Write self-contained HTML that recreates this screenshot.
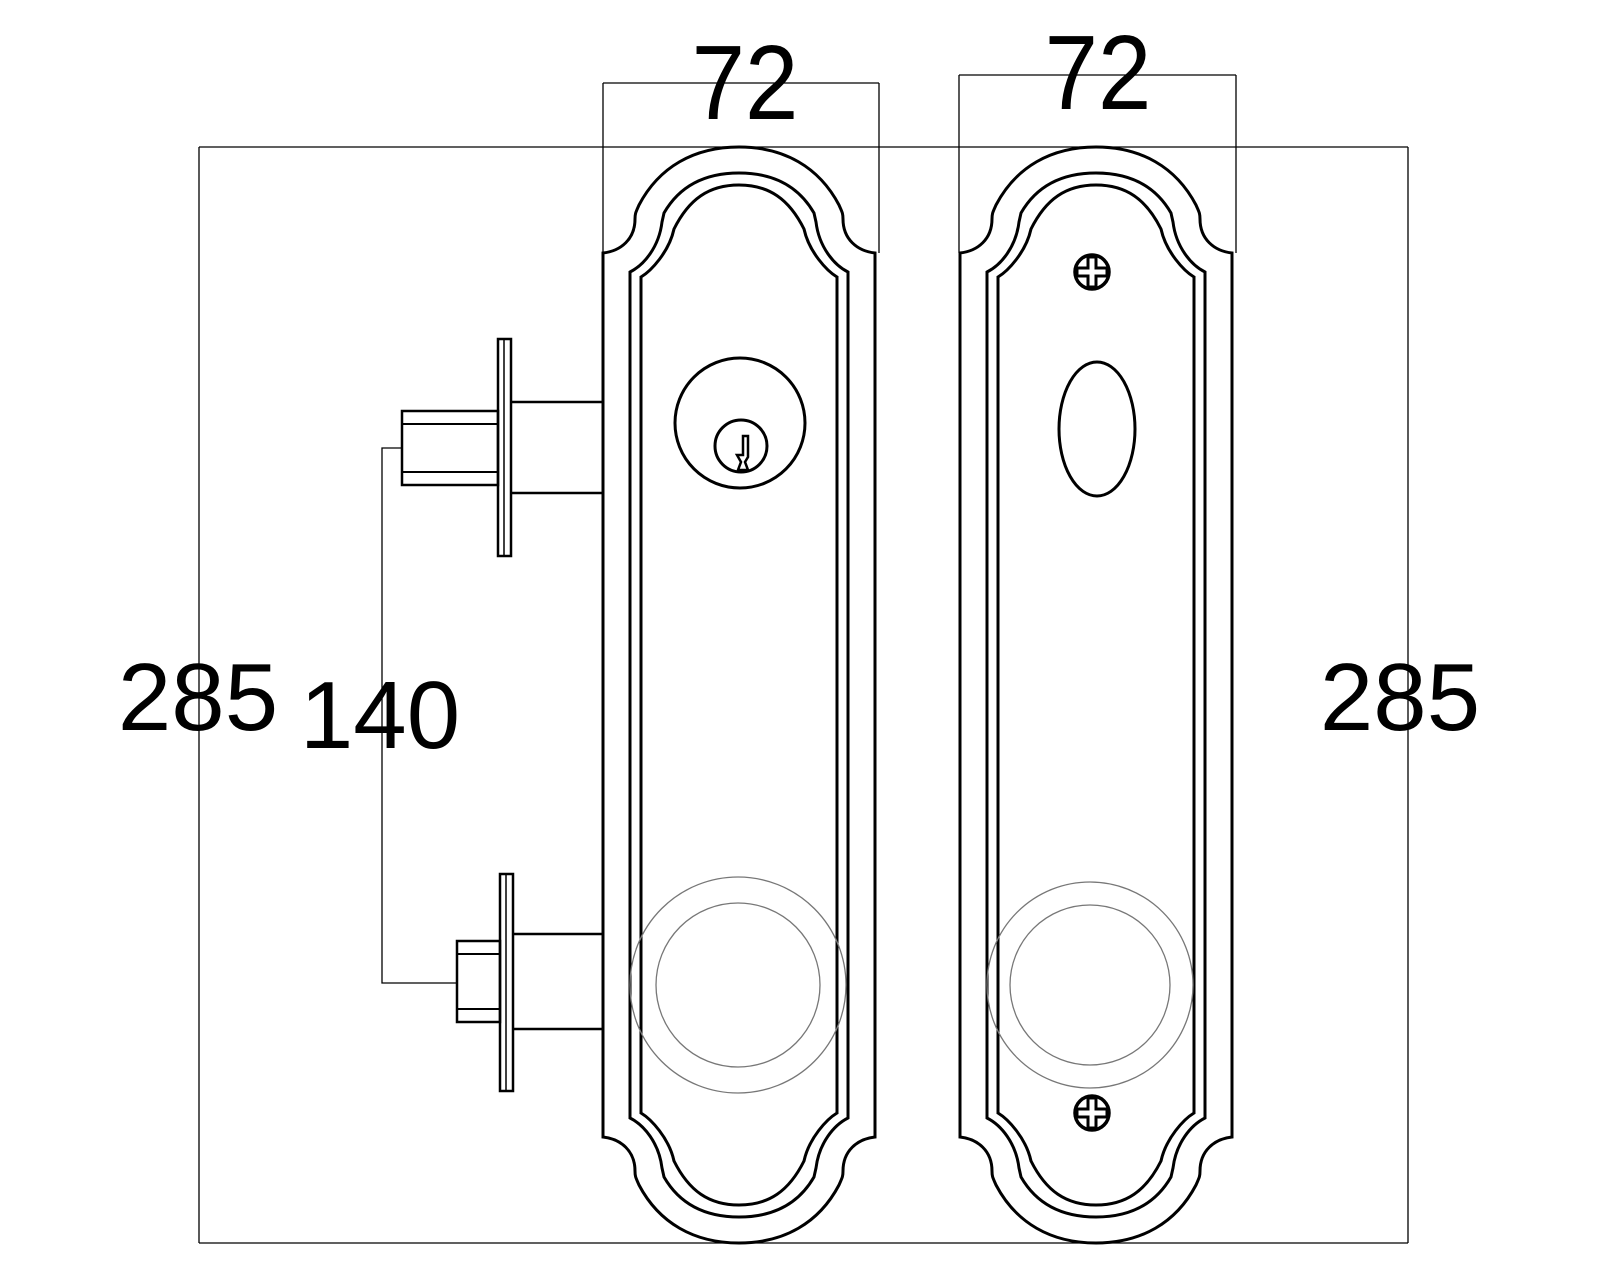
<!DOCTYPE html>
<html><head><meta charset="utf-8"><style>
html,body{margin:0;padding:0;background:#fff;}
svg{display:block;}
text{font-family:"Liberation Sans",sans-serif;fill:#000;}
</style></head><body>
<svg width="1600" height="1280" viewBox="0 0 1600 1280" xmlns="http://www.w3.org/2000/svg">
<defs>
<g id="plate" fill="none" stroke="#000" stroke-width="3">
<path d="M-136,106 C-118,104 -104,92 -104,72 C-104,66 -103,65 -100,58 C-80,20 -45,0 0,0 C45,0 80,20 100,58 C103,65 104,66 104,72 C104,92 118,104 136,106 L136,990 C118,992 104,1004 104,1024 C104,1030 103,1031 100,1038 C80,1076 45,1096 0,1096 C-45,1096 -80,1076 -100,1038 C-103,1031 -104,1030 -104,1024 C-104,1004 -118,992 -136,990 Z"/>
<path d="M-109,125 C-95,118 -80,100 -77,75 L-75,66 C-60,40 -35,26 0,26 C35,26 60,40 75,66 L77,75 C80,100 95,118 109,125 L109,971 C95,978 80,996 77,1021 L75,1030 C60,1056 35,1070 0,1070 C-35,1070 -60,1056 -75,1030 L-77,1021 C-80,996 -95,978 -109,971 Z"/>
<path d="M-98,130 C-88,124 -70,105 -65,82 C-50,52 -30,38 0,38 C30,38 50,52 65,82 C70,105 88,124 98,130 L98,966 C88,972 70,991 65,1014 C50,1044 30,1058 0,1058 C-30,1058 -50,1044 -65,1014 C-70,991 -88,972 -98,966 Z"/>
</g>
<g id="screw" fill="none" stroke="#000">
<circle cx="0" cy="0" r="17" stroke-width="3.5"/>
<path d="M-4,-15 L4,-15 L4,-4 L15,-4 L15,4 L4,4 L4,15 L-4,15 L-4,4 L-15,4 L-15,-4 L-4,-4 Z" stroke-width="3"/>
</g>
</defs>

<g fill="none" stroke="#000" stroke-width="1.3">
<path d="M199,147 H1408 M199,147 V1243 M199,1243 H1408 M1408,147 V1243"/>
<path d="M603,83 H879 M603,83 V253 M879,83 V253"/>
<path d="M959,75 H1236 M959,75 V253 M1236,75 V253"/>
<path d="M402,448 H382 V983 H457"/>
</g>

<use href="#plate" transform="translate(739,147)"/>
<use href="#plate" transform="translate(1096,147)"/>

<g fill="none" stroke="#000" stroke-width="3">
<circle cx="740" cy="423" r="65"/>
<circle cx="741" cy="446" r="26"/>
<path d="M743,436 L748,436 L748,457 L745,462 L748,470 L738,470 L741,462 L737,455 L743,455 Z" stroke-width="2.5"/>
</g>

<ellipse cx="1097" cy="429" rx="38" ry="67" fill="none" stroke="#000" stroke-width="3"/>
<use href="#screw" transform="translate(1092,272)"/>
<use href="#screw" transform="translate(1092,1113)"/>

<g fill="none" stroke="#777" stroke-width="1.3">
<circle cx="738" cy="985" r="108"/>
<circle cx="738" cy="985" r="82"/>
<circle cx="1090" cy="985" r="103"/>
<circle cx="1090" cy="985" r="80"/>
</g>

<g fill="none" stroke="#000" stroke-width="2.5">
<rect x="498" y="339" width="13" height="217"/>
<line x1="504" y1="339" x2="504" y2="556" stroke-width="1.5"/>
<path d="M511,402 H603 M511,493 H603"/>
<rect x="402" y="411" width="96" height="74"/>
<path d="M402,424 H498 M402,472 H498" stroke-width="2"/>

<rect x="500" y="874" width="13" height="217"/>
<line x1="506" y1="874" x2="506" y2="1091" stroke-width="1.5"/>
<path d="M513,934 H603 M513,1029 H603"/>
<rect x="457" y="941" width="43" height="81"/>
<path d="M457,954 H500 M457,1009 H500" stroke-width="2"/>
</g>

<g font-size="96" text-anchor="middle">
<text x="745" y="119" transform="scale(1,1.1)" transform-origin="745 119">72</text>
<text x="1098" y="109" transform="scale(1,1.1)" transform-origin="1098 109">72</text>
<text x="198" y="730">285</text>
<text x="380" y="748">140</text>
<text x="1400" y="730">285</text>
</g>
</svg>
</body></html>
